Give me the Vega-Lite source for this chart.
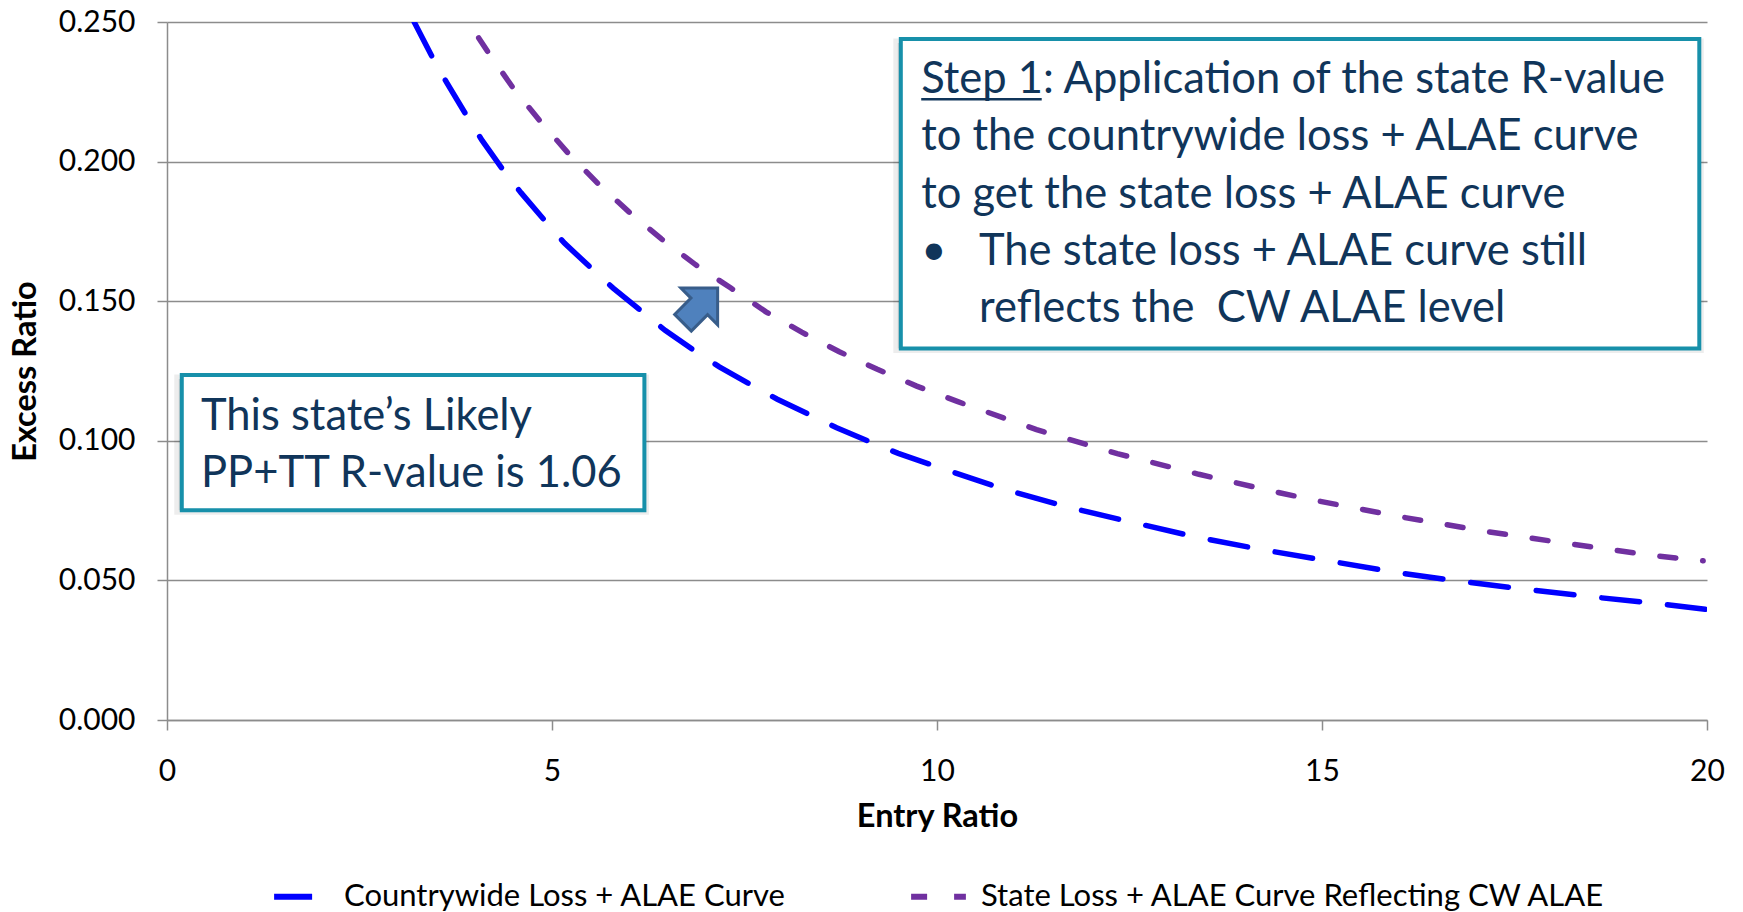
{
  "$schema": "https://vega.github.io/schema/vega-lite/v6.json",
  "width": 1540,
  "height": 698,
  "autosize": {"type": "none"},
  "padding": {"left": 167, "top": 22, "right": 36, "bottom": 192},
  "background": "white",
  "config": {
    "view": {"stroke": null},
    "font": "Lato",
    "axis": {
      "domainColor": "#8C8C8C", "domainWidth": 1.5, "tickColor": "#8C8C8C", "tickWidth": 1.5, "tickSize": 10,
      "labelFont": "Lato", "labelFontSize": 30, "labelColor": "#000000",
      "labelFlush": false, "labelOverlap": false,
      "titleFont": "Lato", "titleFontSize": 32.5, "titleFontWeight": "bold", "titleColor": "#000000"
    },
    "axisX": {"grid": false, "labelPadding": 26, "titlePadding": 14},
    "axisY": {"grid": true, "gridColor": "#8C8C8C", "gridWidth": 1.5, "labelPadding": 22, "titlePadding": 16}
  },
  "datasets": {
    "curves": [
      {"series": "Countrywide Loss + ALAE Curve", "entry": 3.21, "excess": 0.2500},
      {"series": "Countrywide Loss + ALAE Curve", "entry": 3.485, "excess": 0.2353},
      {"series": "Countrywide Loss + ALAE Curve", "entry": 3.637, "excess": 0.2281},
      {"series": "Countrywide Loss + ALAE Curve", "entry": 3.927, "excess": 0.2148},
      {"series": "Countrywide Loss + ALAE Curve", "entry": 4.092, "excess": 0.2076},
      {"series": "Countrywide Loss + ALAE Curve", "entry": 4.408, "excess": 0.1953},
      {"series": "Countrywide Loss + ALAE Curve", "entry": 4.599, "excess": 0.1888},
      {"series": "Countrywide Loss + ALAE Curve", "entry": 4.970, "excess": 0.1768},
      {"series": "Countrywide Loss + ALAE Curve", "entry": 5.161, "excess": 0.1708},
      {"series": "Countrywide Loss + ALAE Curve", "entry": 5.577, "excess": 0.1601},
      {"series": "Countrywide Loss + ALAE Curve", "entry": 5.794, "excess": 0.1547},
      {"series": "Countrywide Loss + ALAE Curve", "entry": 6.235, "excess": 0.1448},
      {"series": "Countrywide Loss + ALAE Curve", "entry": 6.473, "excess": 0.1395},
      {"series": "Countrywide Loss + ALAE Curve", "entry": 6.931, "excess": 0.1307},
      {"series": "Countrywide Loss + ALAE Curve", "entry": 7.173, "excess": 0.1265},
      {"series": "Countrywide Loss + ALAE Curve", "entry": 7.666, "excess": 0.1188},
      {"series": "Countrywide Loss + ALAE Curve", "entry": 7.926, "excess": 0.1149},
      {"series": "Countrywide Loss + ALAE Curve", "entry": 8.438, "excess": 0.1081},
      {"series": "Countrywide Loss + ALAE Curve", "entry": 8.697, "excess": 0.1047},
      {"series": "Countrywide Loss + ALAE Curve", "entry": 9.225, "excess": 0.0985},
      {"series": "Countrywide Loss + ALAE Curve", "entry": 9.497, "excess": 0.0955},
      {"series": "Countrywide Loss + ALAE Curve", "entry": 10.045, "excess": 0.0903},
      {"series": "Countrywide Loss + ALAE Curve", "entry": 10.868, "excess": 0.0827},
      {"series": "Countrywide Loss + ALAE Curve", "entry": 11.691, "excess": 0.0763},
      {"series": "Countrywide Loss + ALAE Curve", "entry": 12.536, "excess": 0.0708},
      {"series": "Countrywide Loss + ALAE Curve", "entry": 13.371, "excess": 0.0655},
      {"series": "Countrywide Loss + ALAE Curve", "entry": 14.224, "excess": 0.0610},
      {"series": "Countrywide Loss + ALAE Curve", "entry": 15.061, "excess": 0.0571},
      {"series": "Countrywide Loss + ALAE Curve", "entry": 15.905, "excess": 0.0531},
      {"series": "Countrywide Loss + ALAE Curve", "entry": 16.757, "excess": 0.0498},
      {"series": "Countrywide Loss + ALAE Curve", "entry": 17.614, "excess": 0.0469},
      {"series": "Countrywide Loss + ALAE Curve", "entry": 18.471, "excess": 0.0442},
      {"series": "Countrywide Loss + ALAE Curve", "entry": 19.325, "excess": 0.0418},
      {"series": "Countrywide Loss + ALAE Curve", "entry": 20.0, "excess": 0.0396},
      {"series": "State Loss + ALAE Curve Reflecting CW ALAE", "entry": 4.048, "excess": 0.2443},
      {"series": "State Loss + ALAE Curve Reflecting CW ALAE", "entry": 4.191, "excess": 0.2383},
      {"series": "State Loss + ALAE Curve Reflecting CW ALAE", "entry": 4.502, "excess": 0.2261},
      {"series": "State Loss + ALAE Curve Reflecting CW ALAE", "entry": 4.849, "excess": 0.2144},
      {"series": "State Loss + ALAE Curve Reflecting CW ALAE", "entry": 5.217, "excess": 0.2028},
      {"series": "State Loss + ALAE Curve Reflecting CW ALAE", "entry": 5.599, "excess": 0.1921},
      {"series": "State Loss + ALAE Curve Reflecting CW ALAE", "entry": 6.002, "excess": 0.1819},
      {"series": "State Loss + ALAE Curve Reflecting CW ALAE", "entry": 6.421, "excess": 0.1723},
      {"series": "State Loss + ALAE Curve Reflecting CW ALAE", "entry": 6.863, "excess": 0.1631},
      {"series": "State Loss + ALAE Curve Reflecting CW ALAE", "entry": 7.323, "excess": 0.1547},
      {"series": "State Loss + ALAE Curve Reflecting CW ALAE", "entry": 7.779, "excess": 0.1462},
      {"series": "State Loss + ALAE Curve Reflecting CW ALAE", "entry": 8.243, "excess": 0.1389},
      {"series": "State Loss + ALAE Curve Reflecting CW ALAE", "entry": 8.731, "excess": 0.1319},
      {"series": "State Loss + ALAE Curve Reflecting CW ALAE", "entry": 9.225, "excess": 0.1256},
      {"series": "State Loss + ALAE Curve Reflecting CW ALAE", "entry": 9.736, "excess": 0.1196},
      {"series": "State Loss + ALAE Curve Reflecting CW ALAE", "entry": 10.262, "excess": 0.1141},
      {"series": "State Loss + ALAE Curve Reflecting CW ALAE", "entry": 11.293, "excess": 0.1040},
      {"series": "State Loss + ALAE Curve Reflecting CW ALAE", "entry": 12.341, "excess": 0.0954},
      {"series": "State Loss + ALAE Curve Reflecting CW ALAE", "entry": 13.401, "excess": 0.0880},
      {"series": "State Loss + ALAE Curve Reflecting CW ALAE", "entry": 14.462, "excess": 0.0813},
      {"series": "State Loss + ALAE Curve Reflecting CW ALAE", "entry": 14.996, "excess": 0.0782},
      {"series": "State Loss + ALAE Curve Reflecting CW ALAE", "entry": 16.078, "excess": 0.0725},
      {"series": "State Loss + ALAE Curve Reflecting CW ALAE", "entry": 17.160, "excess": 0.0674},
      {"series": "State Loss + ALAE Curve Reflecting CW ALAE", "entry": 18.243, "excess": 0.0630},
      {"series": "State Loss + ALAE Curve Reflecting CW ALAE", "entry": 19.325, "excess": 0.0588},
      {"series": "State Loss + ALAE Curve Reflecting CW ALAE", "entry": 19.95, "excess": 0.0570}
    ]
  },
  "layer": [
    {
      "data": {"name": "curves"},
      "mark": {"type": "line", "strokeWidth": 5.5, "strokeCap": "round", "clip": true},
      "encoding": {
        "x": {
          "field": "entry", "type": "quantitative",
          "scale": {"domain": [0, 20], "nice": false, "zero": false},
          "axis": {"title": "Entry Ratio", "values": [0, 5, 10, 15, 20], "format": "d", "labelFontSize": 30, "titleFontSize": 32.5}
        },
        "y": {
          "field": "excess", "type": "quantitative",
          "scale": {"domain": [0, 0.25], "nice": false},
          "axis": {"title": "Excess Ratio", "values": [0, 0.05, 0.1, 0.15, 0.2, 0.25], "format": ".3f", "labelFontSize": 30, "titleFontSize": 32.5}
        },
        "color": {
          "field": "series", "type": "nominal",
          "scale": {"domain": ["Countrywide Loss + ALAE Curve", "State Loss + ALAE Curve Reflecting CW ALAE"], "range": ["#0000FF", "#7030A0"]},
          "legend": {
            "orient": "none", "legendX": 104, "legendY": 844, "direction": "horizontal", "title": null,
            "symbolType": "stroke", "symbolSize": 3000, "symbolStrokeWidth": 6,
            "labelFont": "Lato", "labelFontSize": 31, "labelColor": "#000000", "labelLimit": 1000,
            "labelOffset": 12, "columnPadding": 113
          }
        },
        "strokeDash": {
          "field": "series", "type": "nominal",
          "scale": {"domain": ["Countrywide Loss + ALAE Curve", "State Loss + ALAE Curve Reflecting CW ALAE"], "range": [[38, 28], [16, 27]]},
          "legend": {
            "orient": "none", "legendX": 104, "legendY": 844, "direction": "horizontal", "title": null,
            "symbolType": "stroke", "symbolSize": 3000, "symbolStrokeWidth": 6,
            "labelFont": "Lato", "labelFontSize": 31, "labelColor": "#000000", "labelLimit": 1000,
            "labelOffset": 12, "columnPadding": 113
          }
        }
      }
    },
    {
      "data": {"values": [{}]},
      "mark": {"type": "rect", "fill": "#000000", "fillOpacity": 0.12, "stroke": "#000000", "strokeOpacity": 0.07, "strokeWidth": 9, "xOffset": -3, "yOffset": 4},
      "encoding": {
        "x": {"datum": 9.53, "type": "quantitative"}, "x2": {"datum": 19.9},
        "y": {"datum": 0.2439, "type": "quantitative"}, "y2": {"datum": 0.1331}
      }
    },
    {
      "data": {"values": [{}]},
      "mark": {"type": "rect", "fill": "#000000", "fillOpacity": 0.12, "stroke": "#000000", "strokeOpacity": 0.07, "strokeWidth": 9, "xOffset": -3, "yOffset": 4},
      "encoding": {
        "x": {"datum": 0.192, "type": "quantitative"}, "x2": {"datum": 6.2},
        "y": {"datum": 0.1236, "type": "quantitative"}, "y2": {"datum": 0.0751}
      }
    },
    {
      "data": {"values": [{}]},
      "mark": {"type": "rect", "fill": "#FFFFFF", "stroke": "#1790AA", "strokeWidth": 4},
      "encoding": {
        "x": {"datum": 9.53, "type": "quantitative"}, "x2": {"datum": 19.9},
        "y": {"datum": 0.2439, "type": "quantitative"}, "y2": {"datum": 0.1331}
      }
    },
    {
      "data": {"values": [{}]},
      "mark": {"type": "rect", "fill": "#FFFFFF", "stroke": "#1790AA", "strokeWidth": 4},
      "encoding": {
        "x": {"datum": 0.192, "type": "quantitative"}, "x2": {"datum": 6.2},
        "y": {"datum": 0.1236, "type": "quantitative"}, "y2": {"datum": 0.0751}
      }
    },
    {
      "data": {"values": [{}]},
      "mark": {"type": "text", "align": "left", "baseline": "alphabetic", "font": "Lato", "fontSize": 43.5, "lineHeight": 57.5, "color": "#10355A"},
      "encoding": {
        "x": {"datum": 9.795, "type": "quantitative"},
        "y": {"datum": 0.2247, "type": "quantitative"},
        "text": {"value": ["Step 1: Application of the state R-value", "to the countrywide loss + ALAE curve", "to get the state loss + ALAE curve"]}
      }
    },
    {
      "data": {"values": [{}]},
      "mark": {"type": "rule", "color": "#10355A", "strokeWidth": 2.5},
      "encoding": {
        "x": {"datum": 9.795, "type": "quantitative"}, "x2": {"datum": 11.36},
        "y": {"datum": 0.2223, "type": "quantitative"}
      }
    },
    {
      "data": {"values": [{}]},
      "mark": {"type": "text", "align": "left", "baseline": "alphabetic", "font": "Lato", "fontSize": 43.5, "color": "#10355A"},
      "encoding": {
        "x": {"datum": 9.795, "type": "quantitative"},
        "y": {"datum": 0.163, "type": "quantitative"},
        "text": {"value": "•"}
      }
    },
    {
      "data": {"values": [{}]},
      "mark": {"type": "text", "align": "left", "baseline": "alphabetic", "font": "Lato", "fontSize": 43.5, "lineHeight": 57.5, "color": "#10355A"},
      "encoding": {
        "x": {"datum": 10.545, "type": "quantitative"},
        "y": {"datum": 0.163, "type": "quantitative"},
        "text": {"value": ["The state loss + ALAE curve still", "reflects the \u00a0CW ALAE level"]}
      }
    },
    {
      "data": {"values": [{}]},
      "mark": {"type": "text", "align": "left", "baseline": "alphabetic", "font": "Lato", "fontSize": 43.5, "lineHeight": 56.7, "color": "#10355A"},
      "encoding": {
        "x": {"datum": 0.4416, "type": "quantitative"},
        "y": {"datum": 0.1039, "type": "quantitative"},
        "text": {"value": ["This state’s Likely", "PP+TT R-value is 1.06"]}
      }
    },
    {
      "data": {"values": [{}]},
      "mark": {
        "type": "point", "filled": true, "fill": "#4F81BD", "fillOpacity": 1, "stroke": "#385D8A", "strokeWidth": 3, "opacity": 1,
        "shape": "M0,-1L1.06,0.06L0.48,0.06L0.48,1L-0.48,1L-0.48,0.06L-1.06,0.06Z",
        "size": 2401, "angle": 45
      },
      "encoding": {
        "x": {"datum": 6.926, "type": "quantitative"},
        "y": {"datum": 0.1485, "type": "quantitative"}
      }
    }
  ]
}
